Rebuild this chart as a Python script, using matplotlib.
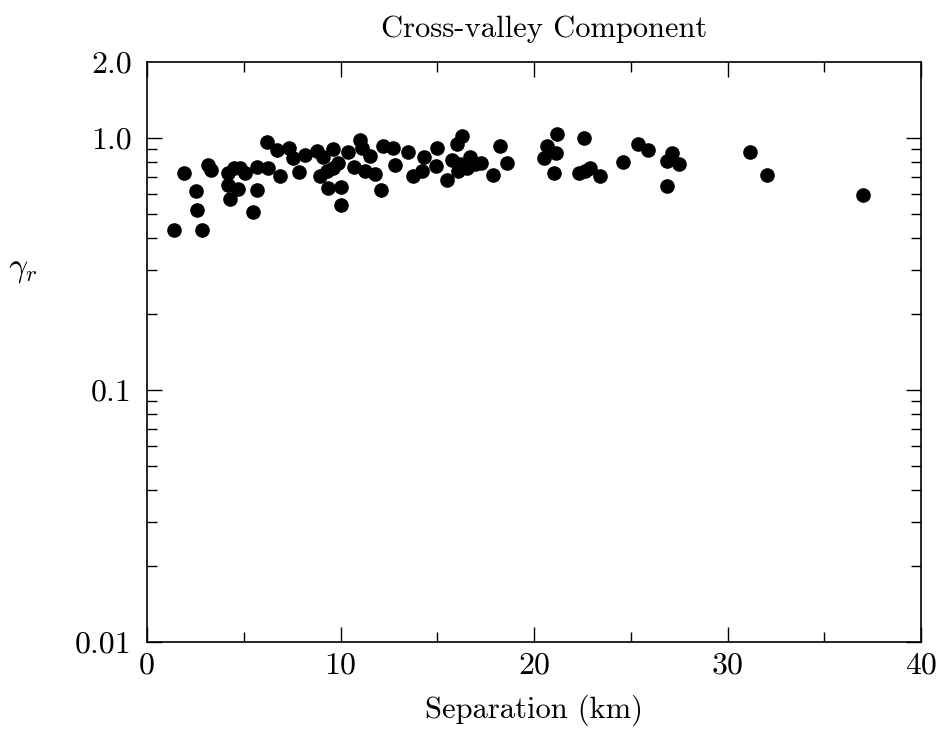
import numpy as np
import matplotlib
matplotlib.use("Agg")
import matplotlib.pyplot as plt
from matplotlib.ticker import FixedLocator, NullFormatter, LogLocator

plt.rcParams['font.family'] = 'serif'
plt.rcParams['font.serif'] = ['cmr10']
plt.rcParams['mathtext.fontset'] = 'cm'
plt.rcParams['axes.formatter.use_mathtext'] = True

# separation between stations (km) and cross-valley coherence
separation = [1.40, 2.84, 1.91, 2.58, 2.53, 3.15, 3.31, 4.19, 4.50, 4.81,
              5.06, 4.19, 4.70, 4.29, 5.48, 5.68, 5.68, 6.25, 6.20, 6.72,
              7.34, 7.55, 6.87, 7.86, 8.17, 8.79, 9.10, 9.61, 8.94, 9.30,
              9.61, 9.87, 9.35, 10.03, 10.03, 10.39, 10.70, 11.01, 11.11, 11.27,
              11.52, 11.78, 12.09, 12.20, 12.71, 12.82, 13.49, 13.75, 14.21, 14.32,
              14.99, 14.94, 15.50, 15.76, 16.02, 16.28, 16.18, 16.07, 16.54, 16.69,
              16.95, 17.26, 17.88, 18.24, 18.60, 20.52, 20.67, 21.14, 21.19, 21.03,
              22.58, 22.33, 22.64, 22.89, 23.41, 24.60, 25.37, 25.89, 27.13, 26.87,
              27.49, 26.87, 31.16, 32.04, 37.00]
gamma_r = [0.429, 0.429, 0.727, 0.519, 0.617, 0.782, 0.747, 0.727, 0.761, 0.761,
           0.727, 0.652, 0.629, 0.574, 0.510, 0.768, 0.623, 0.761, 0.964, 0.897,
           0.913, 0.834, 0.708, 0.734, 0.857, 0.889, 0.841, 0.905, 0.708, 0.741,
           0.761, 0.796, 0.634, 0.640, 0.539, 0.880, 0.768, 0.982, 0.913, 0.741,
           0.849, 0.720, 0.623, 0.930, 0.913, 0.782, 0.880, 0.708, 0.741, 0.841,
           0.913, 0.775, 0.682, 0.818, 0.947, 1.018, 0.789, 0.741, 0.761, 0.841,
           0.789, 0.796, 0.714, 0.930, 0.796, 0.834, 0.930, 0.872, 1.037, 0.727,
           1.000, 0.727, 0.741, 0.761, 0.708, 0.804, 0.947, 0.897, 0.872, 0.811,
           0.789, 0.646, 0.880, 0.714, 0.595]

y_ticks = [0.01, 0.1, 1.0, 2.0]
y_tick_labels = ["0.01", "0.1", "1.0", "2.0"]
x_ticks = [0, 10, 20, 30, 40]

fig = plt.figure(figsize=(9.39, 7.43), dpi=100)
ax = fig.add_axes([0.1566, 0.136, 0.8244, 0.7806])

ax.plot(separation, gamma_r, 'o', color='black', markersize=9.5)

ax.set_yscale('log')
ax.set_xlim(0, 40)
ax.set_ylim(0.01, 2.0)

ax.set_xticks(x_ticks)
ax.set_xticklabels([str(t) for t in x_ticks])
ax.xaxis.set_minor_locator(FixedLocator([5, 15, 25, 35]))
ax.yaxis.set_major_locator(FixedLocator(y_ticks))
ax.set_yticklabels(y_tick_labels)
ax.yaxis.set_minor_locator(LogLocator(base=10, subs=np.arange(2, 10)))
ax.yaxis.set_minor_formatter(NullFormatter())

ax.tick_params(which='both', direction='in', top=True, right=True,
               labelsize=23, width=1.0)
ax.tick_params(axis='y', pad=11)
ax.tick_params(axis='x', pad=7)
ax.tick_params(which='major', length=11)
ax.tick_params(which='minor', length=7)
# the 2.0 label has no tick of its own
ax.yaxis.get_major_ticks()[3].tick1line.set_visible(False)
ax.yaxis.get_major_ticks()[3].tick2line.set_visible(False)

for s in ax.spines.values():
    s.set_linewidth(1.2)

ax.set_title("Cross-valley Component", fontsize=22, pad=18, x=0.513)
ax.set_xlabel("Separation (km)", fontsize=22, labelpad=11)
fig.text(0.024, 0.636, r"$\gamma_r$", fontsize=24, ha='center', va='center')

fig.savefig("out.png", dpi=100)
